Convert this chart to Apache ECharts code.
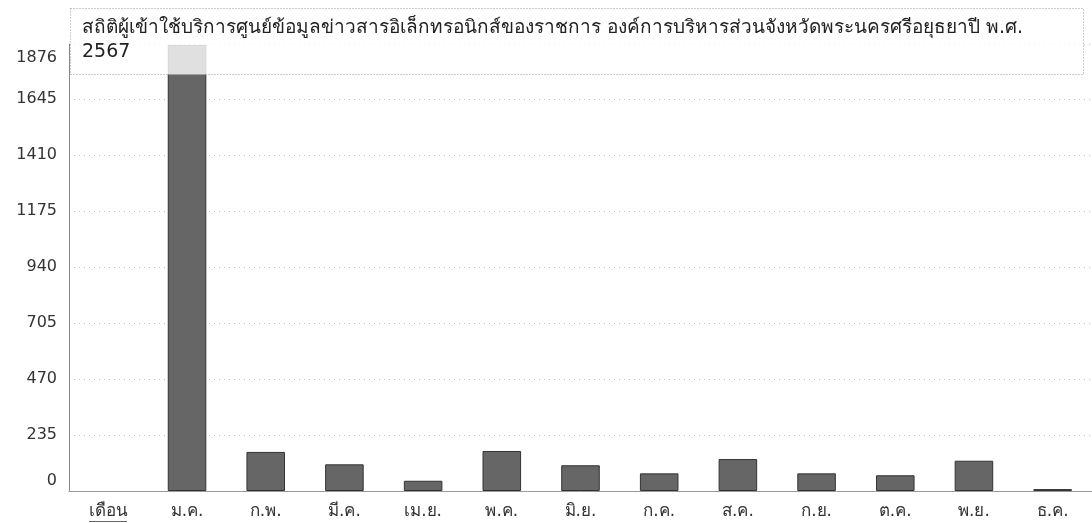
<!DOCTYPE html>
<html>
<head>
<meta charset="utf-8">
<script src="https://cdn.jsdelivr.net/npm/echarts@6/dist/echarts.min.js"></script>
<style>
  html, body { margin: 0; padding: 0; background: #fff; }
  #chart { width: 1092px; height: 523px; }
</style>
</head>
<body>
<div id="chart"></div>
<script>
// ข้อมูล
const months = ["เดือน", "ม.ค.", "ก.พ.", "มี.ค.", "เม.ย.", "พ.ค.", "มิ.ย.", "ก.ค.", "ส.ค.", "ก.ย.", "ต.ค.", "พ.ย.", "ธ.ค."];
const visitors = [null, 1872, 164, 112, 43, 168, 108, 74, 134, 74, 66, 127, 8];
const yMax = 1876;
const yStep = 235;
const titleText = "สถิติผู้เข้าใช้บริการศูนย์ข้อมูลข่าวสารอิเล็กทรอนิกส์ของราชการ องค์การบริหารส่วนจังหวัดพระนครศรีอยุธยาปี พ.ศ.\n2567";

const font = "'DejaVu Sans', 'Noto Sans', sans-serif";
const myChart = echarts.init(document.getElementById("chart"));

const option = {
  animation: false,
  backgroundColor: "#fff",
  grid: {
    left: 69,
    top: 44,
    width: 1034,
    bottom: 32
  },
  xAxis: {
    type: "category",
    data: months,
    axisLine: { lineStyle: { color: "#999", width: 1 } },
    axisTick: { show: false },
    axisLabel: {
      color: "#333",
      fontFamily: font,
      fontSize: 17,
      margin: 12
    }
  },
  yAxis: {
    type: "value",
    min: 0,
    max: yMax,
    interval: yStep,
    axisLine: { show: true, lineStyle: { color: "#888", width: 1 } },
    axisTick: { show: false },
    axisLabel: {
      color: "#333",
      fontFamily: font,
      fontSize: 16,
      margin: 12,
      // ป้ายบนสุดกับล่างสุดเลื่อนเข้าด้านใน
      formatter: function (v) {
        if (v === yMax) return "{top|" + v + "}";
        if (v === 0) return "{bottom|" + v + "}";
        return String(v);
      },
      rich: {
        top: { fontFamily: font, fontSize: 16, color: "#333", padding: [28, 0, 0, 0] },
        bottom: { fontFamily: font, fontSize: 16, color: "#333", padding: [0, 0, 20, 0] }
      }
    },
    splitLine: {
      lineStyle: { color: "#c4c4c4", type: [1, 4], width: 1 }
    }
  },
  series: [
    {
      type: "bar",
      data: visitors,
      barWidth: "49%",
      itemStyle: {
        color: "#666",
        borderColor: "#333",
        borderWidth: 1
      },
      z: 2
    }
  ],
  graphic: [
    {
      type: "rect",
      z: 100,
      shape: { x: 70.5, y: 8.5, width: 1013, height: 66 },
      style: {
        fill: "rgba(255,255,255,0.8)",
        stroke: "#999",
        lineWidth: 1,
        lineDash: [1, 2]
      }
    },
    {
      type: "text",
      z: 101,
      left: 82,
      top: 16,
      style: {
        text: titleText,
        fill: "#222",
        font: "19px " + font,
        lineHeight: 24
      }
    },
    {
      type: "line",
      z: 101,
      shape: { x1: 89, y1: 521.5, x2: 127, y2: 521.5 },
      style: { stroke: "#666", lineWidth: 1 }
    }
  ]
};

myChart.setOption(option);
window.addEventListener("resize", () => myChart.resize());
</script>
</body>
</html>
